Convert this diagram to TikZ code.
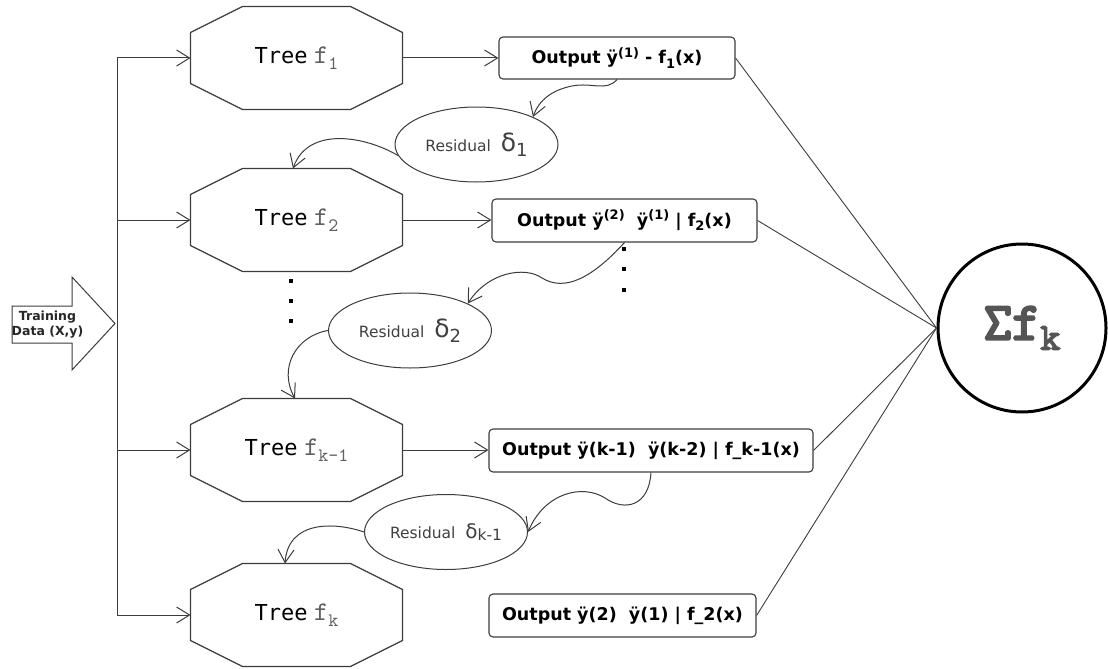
\documentclass[tikz,border=0pt]{standalone}
\usepackage{fontspec}
\usetikzlibrary{arrows.meta,shapes.geometric}
\newfontfamily\treefont{DejaVu Sans Mono}
\newfontfamily\labfont{DejaVu Sans}
\newfontfamily\fmono{lmmono10-regular.otf}
\newfontfamily\sumfont{lmmono10-regular.otf}[FakeBold=4]
\newcommand\upidx[1]{\raisebox{6.5pt}{\fontsize{13}{13}\selectfont #1}}
\newcommand\dnidx[1]{\raisebox{-4.5pt}{\fontsize{13}{13}\selectfont #1}}
\newcommand\treelabel[1]{{\treefont Tree} {\fmono\color{fgray}{\fontsize{27}{27}\selectfont f}\raisebox{-6pt}{\fontsize{19}{19}\selectfont #1}}}
\newcommand\delt[1]{{\fontsize{25}{25}\selectfont δ}\raisebox{-5pt}{\fontsize{18}{18}\selectfont #1}}
\definecolor{lineC}{RGB}{60,60,60}
\definecolor{resC}{RGB}{64,64,64}
\definecolor{fgray}{RGB}{95,95,95}
\definecolor{sumC}{RGB}{85,85,85}
\begin{document}
\begin{tikzpicture}[x=1pt,y=-1pt,
  line width=1pt, draw=lineC,
  arr/.style={-{Straight Barb[length=13pt,width=16pt]}, draw=lineC, line width=1pt},
  tree/.style={minimum width=211pt, minimum height=102pt, inner sep=0pt,
    font=\fontsize{22}{25}\selectfont},
  outbox/.style={draw=lineC, line width=1.1pt, rounded corners=4pt, inner sep=0pt,
    font=\labfont\bfseries\fontsize{17.5}{20}\selectfont},
  resid/.style={ellipse, draw=lineC, line width=1pt, minimum width=163pt,
    minimum height=75pt, inner sep=0pt, text=resC,
    font=\labfont\fontsize{15.5}{18}\selectfont},
  dot/.style={fill=black, minimum size=4.5pt, inner sep=0pt}]
\useasboundingbox (0,0) rectangle (1108,669);

% input arrow
\draw[line width=1pt] (12,306) -- (72,306) -- (72,277) -- (115,323.5) -- (72,370)
  -- (72,343) -- (12,343) -- cycle;
\node[align=center, font=\labfont\bfseries\fontsize{12.5}{15}\selectfont, text=black!85]
  (data) at (47.5,324.5) {Training\\Data (X,y)};

% trees
\node[tree] (t1) at (296.5,58) {\treelabel{1}};
\node[tree] (t2) at (296.5,220) {\treelabel{2}};
\node[tree] (t3) at (296.5,450) {\treelabel{k-1}};
\node[tree] (t4) at (296.5,615) {\treelabel{k}};
\foreach \n in {t1,t2,t3,t4}
  \draw[line width=1.2pt] ([xshift=52pt]\n.north west) -- ([xshift=-52pt]\n.north east)
    -- ([yshift=-26pt]\n.north east) -- ([yshift=26pt]\n.south east)
    -- ([xshift=-52pt]\n.south east) -- ([xshift=52pt]\n.south west)
    -- ([yshift=26pt]\n.south west) -- ([yshift=-26pt]\n.north west) -- cycle;

% outputs
\node[outbox, minimum width=236pt, minimum height=42pt] (o1) at (617,58)
  {Output ÿ\upidx{(1)} - f\dnidx{1}(x)};
\node[outbox, minimum width=265pt, minimum height=43pt] (o2) at (624.5,220.5)
  {Output ÿ\upidx{(2)}\ \ ÿ\upidx{(1)} | f\dnidx{2}(x)};
\node[outbox, minimum width=324pt, minimum height=43pt] (o3) at (651,450.5)
  {Output ÿ(k-1)\ \ ÿ(k-2) | f\_k-1(x)};
\node[outbox, minimum width=267pt, minimum height=43pt] (o4) at (622.5,615.5)
  {Output ÿ(2)\ \ ÿ(1) | f\_2(x)};

% residuals
\node[resid] (e1) at (476.5,144.5) {Residual\ \ \delt{1}};
\node[resid] (e2) at (410,330.5) {Residual\ \ \delt{2}};
\node[resid] (e3) at (446,532) {Residual\ \ {\fontsize{20}{20}\selectfont δ}\raisebox{-2pt}{k-1}};

% sum
\node[circle, draw=black, line width=3pt, minimum size=168pt, inner sep=0pt,
  text=sumC] (sum) at (1022,328)
  {{\sumfont\fontsize{54}{54}\selectfont Σf}\raisebox{-10pt}{\sumfont\fontsize{38}{38}\selectfont k}};

% dots
\node[dot] (l1) at (291,281) {};
\node[dot] (l2) at (291,301) {};
\node[dot] (l3) at (291,321) {};
\node[dot] (r1) at (624,249) {};
\node[dot] (r2) at (624,269) {};
\node[dot] (r3) at (624,290) {};

% input bus
\coordinate (b1) at (117,58);
\coordinate (b4) at (117,615);
\draw (b1) -- (b4);
\foreach \n in {t1,t2,t3,t4}
  \draw[arr] (b1 |- \n.west) -- (\n.west);

% tree -> output
\draw[arr] (t1.east) -- (t1.east -| o1.west);
\draw[arr] (t2.east) -- (t2.east -| o2.west);
\draw[arr] (t3.east) -- (t3.east -| o3.west);

% outputs -> sum
\foreach \n in {o1,o2,o3,o4}
  \draw[line width=0.9pt] (\n.east) -- (sum.west);

% residual flow
\draw[arr] (o1.south) .. controls (606,92) and (592,82) .. (572,86)
  .. controls (552,90) and (539,100) .. (e1.26);
\draw[arr] (e1.188) .. controls (365,136) and (308,126) .. ([xshift=-3.5pt]t2.north);
\draw[arr] (o2.south) .. controls (592,278) and (565,292) .. (542,278)
  .. controls (525,266) and (488,272) .. (e2.25);
\draw[arr] (e2.180) .. controls (296,336) and (278,368) .. ([xshift=-1.5pt]t3.north);
\draw[arr] (o3.south) .. controls (649,506) and (625,512) .. (605,498)
  .. controls (583,484) and (545,492) .. (e3.east);
\draw[arr] (e3.180) .. controls (335,522) and (288,520) .. ([xshift=-11.5pt]t4.north);
\end{tikzpicture}
\end{document}
